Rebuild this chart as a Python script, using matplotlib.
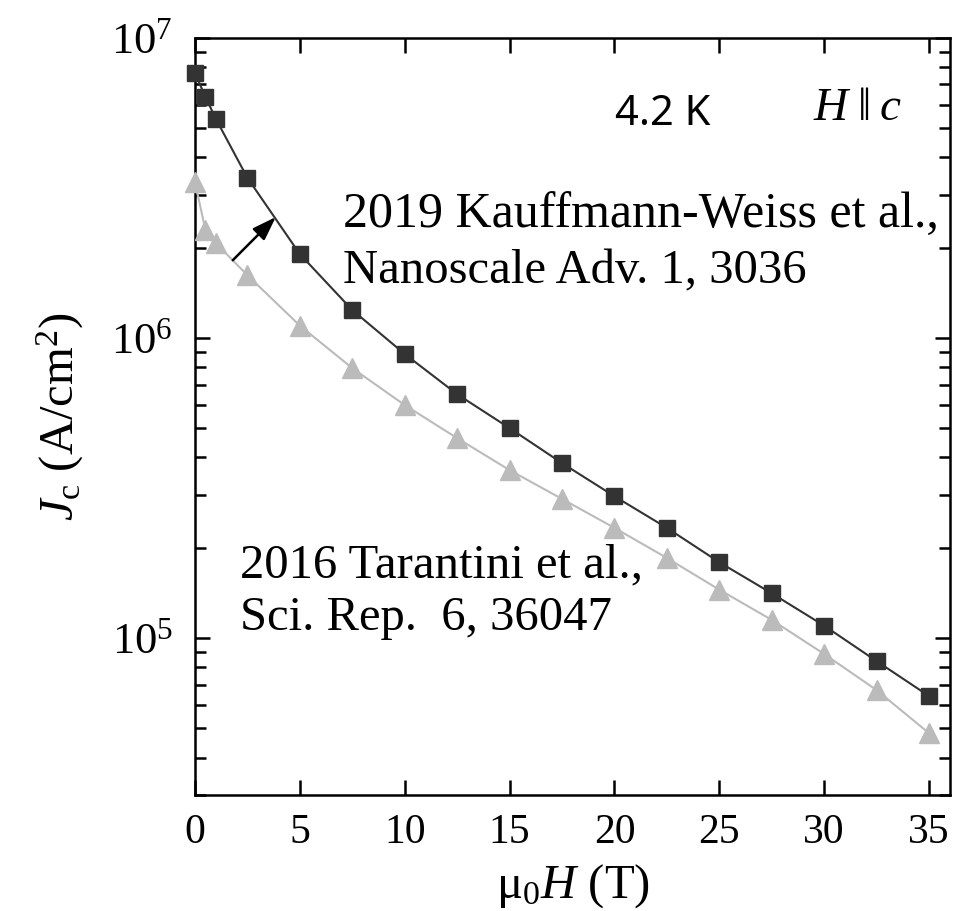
import numpy as np
import matplotlib
matplotlib.use('agg')
from matplotlib import pyplot as plt

plt.rcParams['font.family'] = ['Liberation Serif']
plt.rcParams['mathtext.fontset'] = 'custom'
plt.rcParams['mathtext.rm'] = 'Liberation Serif'
plt.rcParams['mathtext.it'] = 'Liberation Serif:italic'
plt.rcParams['mathtext.bf'] = 'Liberation Serif:bold'

# field (T)
field = [0, 0.5, 1, 2.5, 5, 7.5, 10, 12.5, 15, 17.5, 20, 22.5, 25, 27.5, 30, 32.5, 35]
# Jc (A/cm^2), 2019 Kauffmann-Weiss et al.
jc_2019 = [7.65e6, 6.36e6, 5.37e6, 3.42e6, 1.905e6, 1.24e6, 8.85e5, 6.5e5, 5.01e5,
           3.83e5, 2.97e5, 2.33e5, 1.79e5, 1.41e5, 1.10e5, 8.38e4, 6.41e4]
# Jc (A/cm^2), 2016 Tarantini et al.
jc_2016 = [3.31e6, 2.29e6, 2.07e6, 1.62e6, 1.10e6, 7.94e5, 5.98e5, 4.64e5, 3.63e5,
           2.91e5, 2.33e5, 1.85e5, 1.45e5, 1.15e5, 8.85e4, 6.71e4, 4.82e4]

fig = plt.figure(figsize=(9.58, 9.11), dpi=100)
ax = fig.add_axes([0.2035, 0.1273, 0.7882, 0.831])

ax.plot(field, jc_2016, '-^', color='#bbbbbb', lw=1.5, ms=14, mec='#bbbbbb', mfc='#bbbbbb',
        clip_on=False, zorder=3)
ax.plot(field, jc_2019, '-s', color='#333333', lw=1.5, ms=11, mec='#333333', mfc='#333333',
        clip_on=False, zorder=4)

ax.set_yscale('log')
ax.set_xlim(0, 36)
ax.set_ylim(3e4, 1e7)
ax.set_xticks(np.arange(0, 36, 5))

for s in ax.spines.values():
    s.set_linewidth(1.8)
ax.tick_params(which='both', direction='in', top=True, right=True, width=1.8)
ax.tick_params(which='major', length=11)
ax.tick_params(which='minor', length=8)
ax.tick_params(axis='x', pad=13, labelsize=30)
ax.tick_params(axis='y', pad=16, labelsize=32)

ax.set_xlabel(r'$\mathrm{\mu}_0H$ (T)', fontsize=35, labelpad=8)
ax.set_ylabel(r'$J_\mathrm{c}$ (A/cm$^2$)', fontsize=35, labelpad=18)

ax.annotate('', xy=(3.95, 2.57e6), xytext=(1.71, 1.79e6),
            arrowprops=dict(arrowstyle='-|>,head_length=1.45,head_width=0.5', color='black', lw=1.8))

ax.text(0.619, 0.90, '4.2 K', transform=ax.transAxes, fontsize=30,
        family='Noto Sans', ha='center', va='center', fontweight='light')
ax.text(0.878, 0.907, r'$H\;\Vert\;c$', transform=ax.transAxes, fontsize=34,
        ha='center', va='center')
ax.text(0.196, 0.749, '2019 Kauffmann-Weiss et al.,', transform=ax.transAxes, fontsize=36,
        ha='left', va='baseline')
ax.text(0.196, 0.676, 'Nanoscale Adv. 1, 3036', transform=ax.transAxes, fontsize=35,
        ha='left', va='baseline')
ax.text(0.0596, 0.287, '2016 Tarantini et al.,', transform=ax.transAxes, fontsize=35,
        ha='left', va='baseline')
ax.text(0.0596, 0.218, 'Sci. Rep.  6, 36047', transform=ax.transAxes, fontsize=35,
        ha='left', va='baseline')

plt.savefig('out.png')
